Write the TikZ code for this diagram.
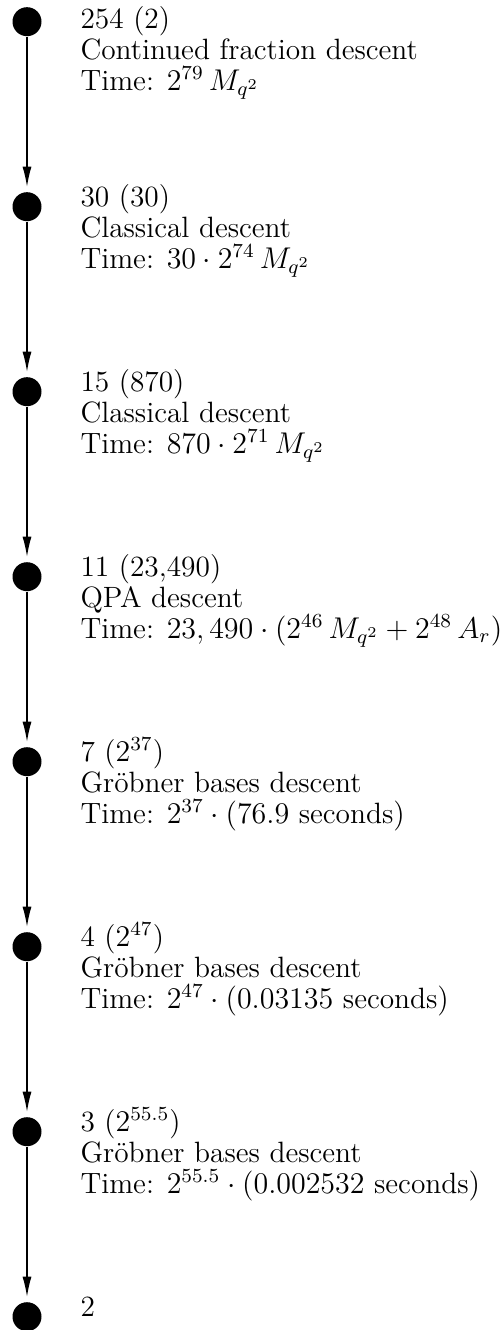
\documentclass[tikz,border=0pt]{standalone}
\usetikzlibrary{arrows.meta}
\begin{document}
\begin{tikzpicture}[x=0.4pt,y=-0.4pt,
  dot/.style={circle,fill=black,minimum size=11.6pt,inner sep=0pt},
  lab/.style={anchor=base west,align=left,inner sep=0pt,font=\fontsize{11.75}{12.3}\selectfont},
  arr/.style={-{Latex[length=8pt,width=3.6pt]},line width=0.45pt,shorten >=2pt}]
\useasboundingbox (0,0) rectangle (504,1330);
\foreach \i in {0,...,7}{
  \node[dot] (n\i) at (27,{21.7+185*\i}) {};
}
% base anchor of a multi-line node is its last line: first line + 2 lines
\node[lab] (t0) at (80,90.5) {254 (2)\\Continued fraction descent\\Time: $2^{79}\,M_{q^2}$};
\node[lab] (t1) at (80,268.2) {30 (30)\\Classical descent\\Time: $30\cdot 2^{74}\,M_{q^2}$};
\node[lab] (t2) at (80,453.2) {15 (870)\\Classical descent\\Time: $870\cdot 2^{71}\,M_{q^2}$};
\node[lab] (t3) at (80,638.2) {11 (23,490)\\QPA descent\\Time: $23,490\cdot(2^{46}\,M_{q^2}+2^{48}\,A_r)$};
\node[lab] (t4) at (80,823.2) {7 ($2^{37}$)\\Gr\"obner bases descent\\Time: $2^{37}\cdot(76.9$ seconds$)$};
\node[lab] (t5) at (80,1008.2) {4 ($2^{47}$)\\Gr\"obner bases descent\\Time: $2^{47}\cdot(0.03135$ seconds$)$};
\node[lab] (t6) at (80,1193.2) {3 ($2^{55.5}$)\\Gr\"obner bases descent\\Time: $2^{55.5}\cdot(0.002532$ seconds$)$};
\node[lab] (t7) at (80,1316) {2};
\foreach \i [evaluate=\i as \j using int(\i+1)] in {0,...,6}{
  \draw[arr] (n\i) -- (n\j);
}
\end{tikzpicture}
\end{document}
